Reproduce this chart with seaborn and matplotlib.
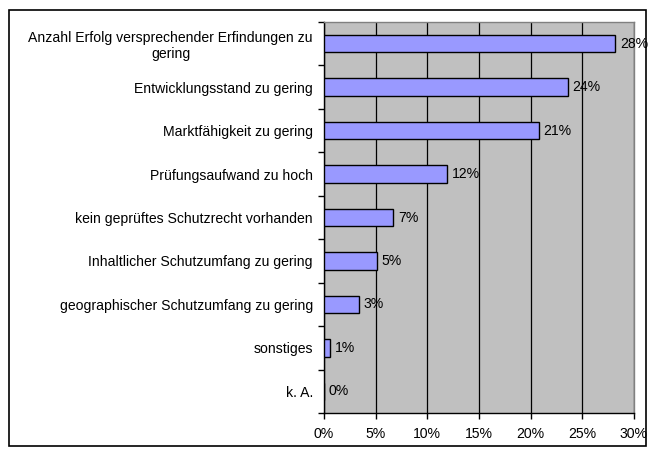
import matplotlib
matplotlib.use("Agg")
import matplotlib.pyplot as plt
from matplotlib.patches import Rectangle
from matplotlib.ticker import MultipleLocator, PercentFormatter, FixedLocator
import seaborn as sns
import pandas as pd

categories = [
    "Anzahl Erfolg versprechender Erfindungen zu\ngering",
    "Entwicklungsstand zu gering",
    "Marktfähigkeit zu gering",
    "Prüfungsaufwand zu hoch",
    "kein geprüftes Schutzrecht vorhanden",
    "Inhaltlicher Schutzumfang zu gering",
    "geographischer Schutzumfang zu gering",
    "sonstiges",
    "k. A.",
]
values = [28.2, 23.6, 20.8, 11.9, 6.7, 5.1, 3.4, 0.6, 0.0]
value_labels = ["28%", "24%", "21%", "12%", "7%", "5%", "3%", "1%", "0%"]

sns.set_style("white")
plt.rcParams["font.family"] = ["Liberation Sans", "DejaVu Sans"]
plt.rcParams["font.size"] = 10.1
plt.rcParams["text.color"] = "black"
plt.rcParams["xtick.color"] = "black"
plt.rcParams["ytick.color"] = "black"

df = pd.DataFrame({"cat": categories, "val": values})

fig = plt.figure(figsize=(6.52, 4.53), dpi=100)
ax = fig.add_axes([324 / 652, 1 - 413 / 453, (634 - 324) / 652, (413 - 22) / 453])
ax.set_facecolor("#C0C0C0")

sns.barplot(data=df, x="val", y="cat", orient="h", color="#9999FF",
            edgecolor="black", linewidth=1.0, width=0.4, saturation=1, ax=ax, zorder=3)

ax.set_xlim(0, 30)
ax.set_ylim(len(categories) - 0.5, -0.5)
ax.xaxis.set_major_locator(MultipleLocator(5))
ax.xaxis.set_major_formatter(PercentFormatter(decimals=0))
ax.grid(axis="x", color="#000000", linewidth=0.9, zorder=1)
ax.set_axisbelow(True)
ax.set_xlabel("")
ax.set_ylabel("")

for i, (v, lab) in enumerate(zip(values, value_labels)):
    ax.text(v + 0.45, i, lab, va="center", ha="left", fontsize=10.1, color="black", zorder=4)

ax.set_yticks(range(len(categories)))
ax.set_yticklabels(categories, ha="right", multialignment="center", color="black")
ax.tick_params(axis="y", which="major", left=False, length=0, pad=8)
ax.yaxis.set_minor_locator(FixedLocator([i - 0.5 for i in range(len(categories) + 1)]))
ax.tick_params(axis="y", which="minor", left=True, length=4, width=1, color="black", direction="out")
ax.tick_params(axis="x", which="major", bottom=True, length=4, width=1, color="black",
               direction="out", pad=6, labelcolor="black")

for s in ["left", "bottom"]:
    ax.spines[s].set_color("black")
    ax.spines[s].set_linewidth(1.0)
for s in ["top", "right"]:
    ax.spines[s].set_color("#808080")
    ax.spines[s].set_linewidth(1.0)

fig.patches.append(Rectangle((9 / 652, 1 - 446 / 453), (646 - 9) / 652, (446 - 10) / 453,
                             transform=fig.transFigure, fill=False, edgecolor="black",
                             linewidth=1.2, zorder=0))

fig.savefig("out.png", dpi=100)
